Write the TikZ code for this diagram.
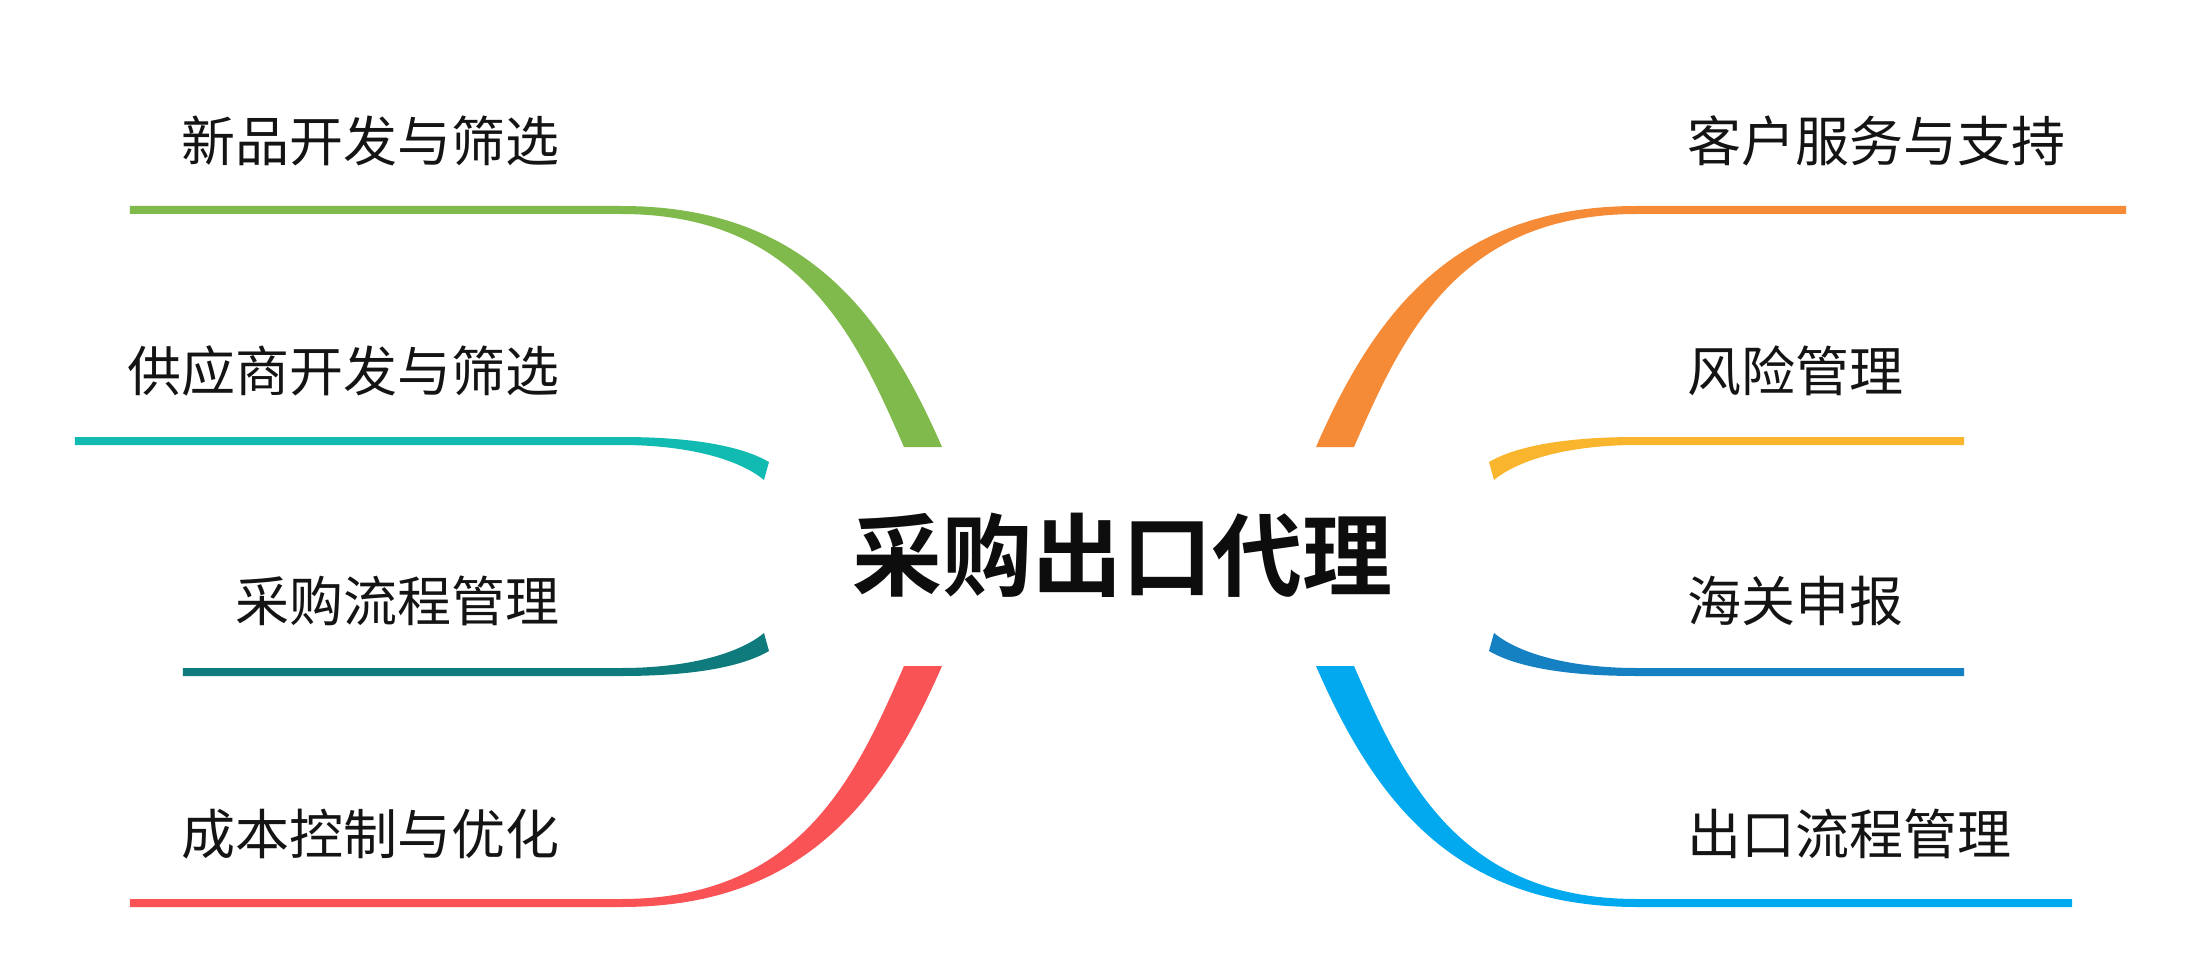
\documentclass[tikz,border=0pt]{standalone}
\usepackage{fontspec}
\newfontfamily\cjk{Noto Sans CJK SC}[BoldFont={Noto Sans CJK SC Bold}]
\definecolor{cgreen}{HTML}{80BA4C}
\definecolor{cteal}{HTML}{12BBB1}
\definecolor{cdteal}{HTML}{0F7B7C}
\definecolor{cred}{HTML}{F95356}
\definecolor{corange}{HTML}{F68B37}
\definecolor{cyellow}{HTML}{F8B52D}
\definecolor{cblue}{HTML}{1580C2}
\definecolor{clblue}{HTML}{03A9EF}
% long branch (upper-left orientation): #1 colour, #2 x of free end
\newcommand\mmlongbranch[2]{%
  \fill[#1] (#2,350.5) -- (-508,350.5)
    .. controls (-328,350.5) and (-247,247.5) .. (-187,109.5)
    -- (-225,109.5)
    .. controls (-273,219.5) and (-328,342.5) .. (-508,342.5)
    -- (#2,342.5) -- cycle;}
% short branch (upper-left orientation)
\newcommand\mmshortbranch[2]{%
  \fill[#1] (#2,119.5) -- (-508,119.5)
    .. controls (-429,119.5) and (-384,108.5) .. (-360,94.5)
    -- (-365,76.5)
    .. controls (-389,96.5) and (-439,111.5) .. (-508,111.5)
    -- (#2,111.5) -- cycle;}
\begin{document}
\begin{tikzpicture}[x=1pt,y=1pt]
\tikzset{
  lbl/.style={font=\cjk\fontsize{54}{60}\selectfont, text=black!92, inner sep=0pt},
  lblL/.style={lbl, anchor=east},
  lblR/.style={lbl, anchor=west},
  title/.style={font=\cjk\bfseries\fontsize{90}{100}\selectfont, text=black!95, inner sep=0pt}
}
\useasboundingbox (-1129,-421.5) rectangle (1074,556.5);
\fill[white] (-1129,-421.5) rectangle (1074,556.5);

% central topic
\node[title] (c) at (-6.5,1.5) {采购出口代理};

% left branches
\mmlongbranch{cgreen}{-999}
\mmshortbranch{cteal}{-1054}
\begin{scope}[yscale=-1]
  \mmshortbranch{cdteal}{-946}
  \mmlongbranch{cred}{-999}
\end{scope}
% right branches
\begin{scope}[xscale=-1]
  \mmlongbranch{corange}{-997}
  \mmshortbranch{cyellow}{-835}
\end{scope}
\begin{scope}[xscale=-1,yscale=-1]
  \mmshortbranch{cblue}{-835}
  \mmlongbranch{clblue}{-943}
\end{scope}

% labels
\node[lblL] (l1) at (-569,415.5) {新品开发与筛选};
\node[lblL] (l2) at (-569,185.5) {供应商开发与筛选};
\node[lblL] (l3) at (-569,-44.5) {采购流程管理};
\node[lblL] (l4) at (-569,-277.5) {成本控制与优化};
\node[lblR] (r1) at (558,415.5) {客户服务与支持};
\node[lblR] (r2) at (558,185.5) {风险管理};
\node[lblR] (r3) at (558,-44.5) {海关申报};
\node[lblR] (r4) at (558,-277.5) {出口流程管理};
\end{tikzpicture}
\end{document}
